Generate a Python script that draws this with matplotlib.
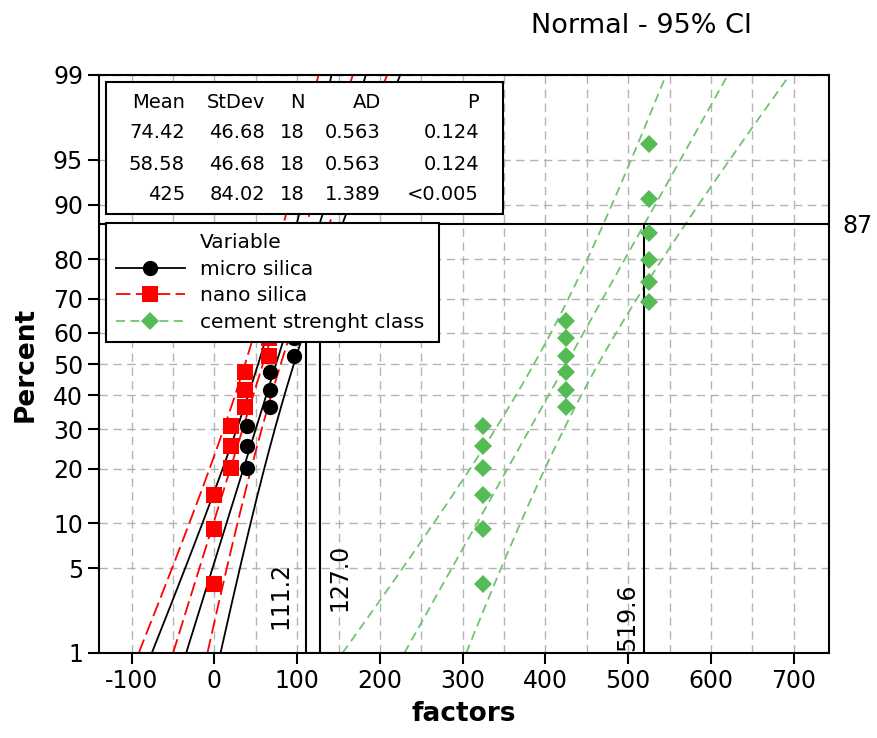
import matplotlib
matplotlib.use('Agg')
import matplotlib.pyplot as plt
import matplotlib.transforms as mtransforms
from matplotlib.lines import Line2D
from matplotlib.patches import Rectangle
from statistics import NormalDist
import numpy as np

# data
variables = ['micro silica', 'nano silica', 'cement strenght class']
micro_silica = [-1, -1, -1, 39, 39, 39, 67, 67, 67, 96, 96, 96, 112.5, 112.5, 112.5, 133, 133, 133]
nano_silica = [0, 0, 0, 20.5, 20.5, 20.5, 37, 37, 37, 66, 66, 66, 94, 94, 94, 134, 134, 134]
cement_class = [325, 325, 325, 325, 325, 325, 425, 425, 425, 425, 425, 425, 525, 525, 525, 525, 525, 525]
means = [74.42, 58.58, 425]
stdevs = [46.68, 46.68, 84.02]
n_obs = [18, 18, 18]
ad_values = ['0.563', '0.563', '1.389']
p_values = ['0.124', '0.124', '<0.005']
ref_percent = 87
percent_ticks = [1, 5, 10, 20, 30, 40, 50, 60, 70, 80, 90, 95, 99]
x_ticks = list(range(-100, 701, 100))
x_grid = list(range(-100, 701, 50))

plt.rcParams['font.family'] = ['DejaVu Sans']
plt.rcParams['axes.unicode_minus'] = False

nd = NormalDist()
z = lambda p: nd.inv_cdf(p / 100.0)

fig = plt.figure(figsize=(8.77, 7.38), dpi=100)
ax = fig.add_axes([99 / 877, 85 / 738, 730 / 877, 578 / 738])

line_colors = ['black', '#ff0000', '#70c470']
mark_colors = ['black', '#ff0000', '#55bb55']
line_styles = ['-', (0, (8, 3)), (0, (5, 3))]
markers = ['o', 's', 'D']
msizes = [11, 12, 9.5]

# fitted lines and 95% CI
zz = np.linspace(z(1), z(99), 200)
for i in range(3):
    m, s, n = means[i], stdevs[i], n_obs[i]
    half = 1.96 * s * np.sqrt(1.0 / n + zz ** 2 / (2.0 * n))
    fit = m + zz * s
    for xs in (fit, fit - half, fit + half):
        ax.plot(xs, zz, color=line_colors[i], ls=line_styles[i], lw=1.3, zorder=2)

# points (median ranks)
for i, vals in enumerate([micro_silica, nano_silica, cement_class]):
    vals = sorted(vals)
    n = len(vals)
    pp = [(k + 1 - 0.3) / (n + 0.4) * 100 for k in range(n)]
    ax.plot(vals, [z(p) for p in pp], ls='none', marker=markers[i], ms=msizes[i],
            color=mark_colors[i], mec=mark_colors[i], mew=0, zorder=3 + i)

# reference lines at 87%
zr = z(ref_percent)
ax.axhline(zr, color='black', lw=1.5, zorder=4)
blend = mtransforms.blended_transform_factory(ax.transData, ax.transAxes)
offsets = [14.4, -18.7, -12.2]
ypos = [0.131, 0.100, 0.061]
for i in range(3):
    xv = means[i] + zr * stdevs[i]
    ax.plot([xv, xv], [z(1), zr], color='black', lw=1.5, zorder=4)
    ax.annotate(f'{xv:.1f}', xy=(xv, ypos[i]), xycoords=blend, xytext=(offsets[i], 0),
                textcoords='offset points', rotation=90, ha='center', va='center', fontsize=17)
fig.text(857 / 877, 1 - 226 / 738, str(ref_percent), fontsize=17, ha='center', va='center')

ax.set_xlim(-139.5, 742.7)
ax.set_ylim(z(1), z(99))
ax.set_xticks(x_ticks)
ax.set_xticks(x_grid, minor=True)
ax.set_yticks([z(p) for p in percent_ticks])
ax.set_yticklabels([str(p) for p in percent_ticks])
ax.tick_params(axis='both', which='major', labelsize=17, length=8, width=1.5, direction='out')
ax.tick_params(axis='x', which='minor', length=0)
ax.grid(True, which='both', axis='x', color='#b4b4b4', ls=(0, (6, 4)), lw=1)
ax.grid(True, which='major', axis='y', color='#b4b4b4', ls=(0, (6, 4)), lw=1)
ax.set_axisbelow(True)
for sp in ax.spines.values():
    sp.set_linewidth(1.5)

ax.set_xlabel('factors', fontsize=19, fontweight='bold', labelpad=6)
ax.set_ylabel('Percent', fontsize=19, fontweight='bold', labelpad=10)
fig.text(641 / 877, 1 - 26 / 738, 'Normal - 95% CI', fontsize=19.5, ha='center', va='center')

# stats table
ax.add_patch(Rectangle((0.0096, 0.7595), 0.5434, 0.2285, transform=ax.transAxes,
                       facecolor='white', edgecolor='black', lw=1.5, zorder=8))
col_x = [0.1178, 0.2274, 0.2822, 0.386, 0.5205]
row_y = [0.9516, 0.8997, 0.846, 0.7924]
header = ['Mean', 'StDev', 'N', 'AD', 'P']
for j, h in enumerate(header):
    ax.text(col_x[j], row_y[0], h, transform=ax.transAxes, ha='right', va='center',
            fontsize=14, zorder=9)
for i in range(3):
    cells = [f'{means[i]:g}', f'{stdevs[i]:.2f}', str(n_obs[i]), ad_values[i], p_values[i]]
    for j, c in enumerate(cells):
        ax.text(col_x[j], row_y[i + 1], c, transform=ax.transAxes, ha='right', va='center',
                fontsize=14, zorder=9)

# legend
handles = [Line2D([], [], ls='none', label='Variable')]
for i in range(3):
    handles.append(Line2D([], [], color=line_colors[i], ls=line_styles[i], lw=1.3,
                          marker=markers[i], ms=msizes[i], mfc=mark_colors[i], mew=0,
                          label=variables[i]))
leg = ax.legend(handles=handles, loc='upper left', bbox_to_anchor=(0.0096, 0.5208, 0.4562, 0.2232),
                mode='expand', borderaxespad=0, fontsize=14.5, handlelength=3.4, handletextpad=0.75,
                labelspacing=0.38, borderpad=0.5, fancybox=False, framealpha=1, edgecolor='black')
leg.get_frame().set_linewidth(1.5)
leg.set_zorder(10)

fig.savefig('out.png', dpi=100)
